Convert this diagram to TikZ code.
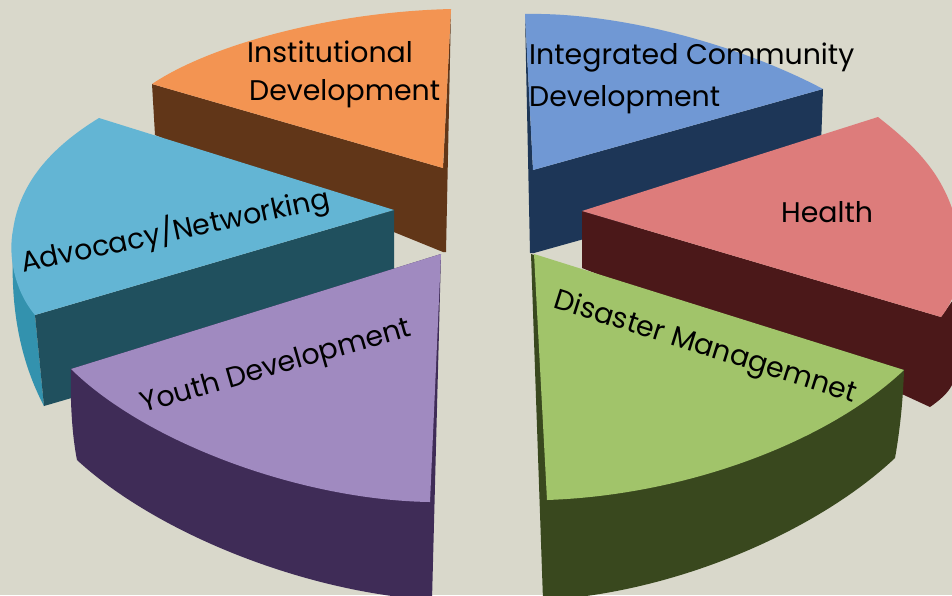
\documentclass[tikz,border=0pt]{standalone}
\usepackage{fontspec}
\setmainfont{Poppins}
\definecolor{bg}{RGB}{217,216,203}
\definecolor{orTop}{RGB}{243,148,82}
\definecolor{orSide}{RGB}{97,54,24}
\definecolor{icTop}{RGB}{112,152,212}
\definecolor{icSide}{RGB}{29,54,87}
\definecolor{adTop}{RGB}{99,181,212}
\definecolor{adSide}{RGB}{32,80,94}
\definecolor{adOut}{RGB}{51,146,174}
\definecolor{heTop}{RGB}{221,124,123}
\definecolor{heSide}{RGB}{75,24,25}
\definecolor{yoTop}{RGB}{160,138,192}
\definecolor{yoSide}{RGB}{63,44,87}
\definecolor{diTop}{RGB}{161,196,106}
\definecolor{diSide}{RGB}{57,72,30}
\tikzset{lbl/.style={inner sep=0pt, font=\fontsize{28.4}{33}\selectfont, text=black}}
\begin{document}
\begin{tikzpicture}[x=1pt,y=-1pt]
\fill[bg] (0,0) rectangle (952,595);
\useasboundingbox (0,0) rectangle (952,595);
\clip (0,0) rectangle (952,595);
% Institutional Development (orange)
\fill[orSide] (152,84) -- (155,135) -- (443,252) -- (446,252) -- (451,9) -- (443,168) -- cycle;
\fill[orTop] (152,84) .. controls (210,45) and (330,12) .. (451,9) -- (443,168) -- cycle;
% Integrated Community Development (blue)
\fill[icSide] (525,14) -- (530,253) -- (534,253) -- (820,173) -- (823,89) -- (533,170) -- cycle;
\fill[icTop] (525,14) .. controls (620,12) and (740,45) .. (823,89) -- (533,170) -- cycle;
% Advocacy/Networking (teal)
\fill[adOut] (13,250) .. controls (10,320) and (25,370) .. (44,406) -- (35,315) -- cycle;
\fill[adSide] (35,315) -- (394,210) -- (394,304) -- (44,406) -- cycle;
\fill[adTop] (99,118) -- (394,210) -- (35,315) .. controls (14,290) and (8,255) .. (13,230) .. controls (20,180) and (55,145) .. (99,118) -- cycle;
% Health (pink)
\fill[heSide] (582,211) -- (582,268) -- (904,395) -- (930,407) .. controls (940,400) and (948,393) .. (952,385) -- (960,385) -- (960,290) -- (941,317) -- cycle;
\fill[heTop] (582,211) -- (878,117) .. controls (920,150) and (950,180) .. (960,240) .. controls (962,275) and (955,300) .. (941,317) -- cycle;
% Youth Development (purple)
\fill[yoSide] (71,369) .. controls (70,400) and (72,435) .. (77,460) .. controls (155,532) and (302,592) .. (432,600) -- (441,254) -- cycle;
\fill[yoTop] (71,369) -- (441,254) -- (430,502) .. controls (300,500) and (145,442) .. (71,369) -- cycle;
% Disaster Management (green)
\fill[diSide] (531,254) -- (543,600) -- (546,600) .. controls (681,592) and (821,528) .. (895,458) .. controls (900,430) and (903,400) .. (904,370) -- cycle;
\fill[diTop] (534,254) -- (904,370) .. controls (830,440) and (690,495) .. (547,500) -- cycle;
% labels
\node[lbl, anchor=base west] (inst1) at (247,62) {Institutional};
\node[lbl, anchor=base west] (inst2) at (249,100) {Development};
\node[lbl, anchor=base west] (icd1) at (529,64) {Integrated Community};
\node[lbl, anchor=base west] (icd2) at (529,106) {Development};
\node[lbl, anchor=base west] (health) at (781,222) {Health};
\node[lbl, anchor=base, rotate=12] (adv) at (177,240) {Advocacy/Networking};
\node[lbl, anchor=base, rotate=16] (youth) at (278,374) {Youth Development};
\node[lbl, anchor=base, rotate=-17.5] (dis) at (703,355) {Disaster Managemnet};
\end{tikzpicture}
\end{document}
